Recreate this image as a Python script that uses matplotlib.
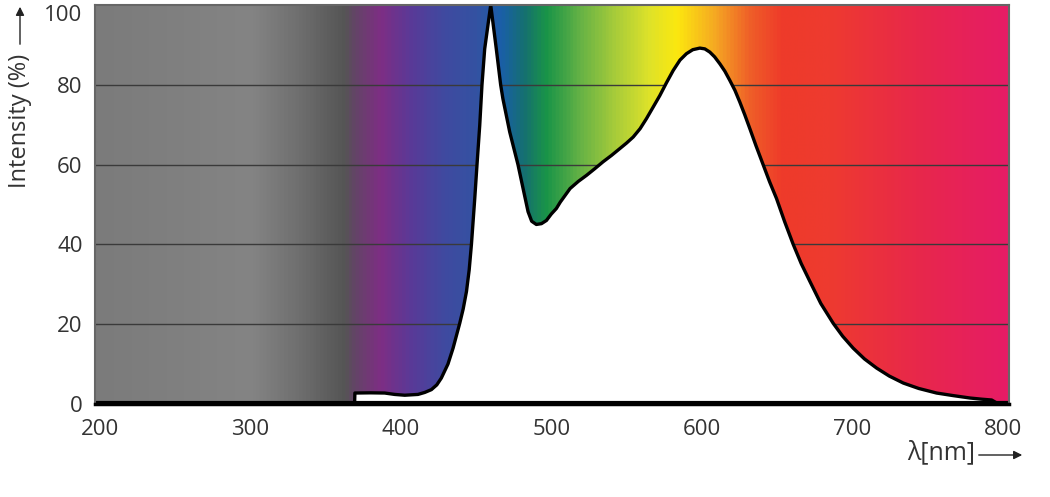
import matplotlib
matplotlib.use("Agg")
import matplotlib.pyplot as plt
import numpy as np
from matplotlib.colors import LinearSegmentedColormap
from matplotlib.patches import FancyArrowPatch

plt.rcParams['font.family'] = ['Open Sans', 'DejaVu Sans']

# ---- data ----
wavelength = [369.4, 369.6, 380, 389.4, 396, 402.7, 411.5, 416, 420.4, 424, 427, 431.4,
              434.8, 439.2, 441.5, 443.7, 445.5, 447, 449.2, 450.7, 452.5, 454, 455.8, 459.8,
              463.5, 466.4, 467.9, 472.4, 477.9, 481.3, 484.6, 487, 490.1, 493.5,
              496.8, 500, 503.4, 506, 512.5, 518, 523.4, 529, 534.4,
              540, 545.5, 550, 554.4, 559, 563.2, 567.5, 572.1, 576.5, 581, 585.5,
              589.8, 594, 598.7, 602, 605.3, 608.5, 612, 615.3, 618.6, 622, 625.2,
              628.5, 631.9, 636, 640.7, 645, 649.6, 655, 660.7, 666, 671.8, 679, 687.3,
              693.5, 700.5, 708, 716.1, 724.5, 733.8, 744, 755.9, 767, 778.1, 786,
              792.5, 797]
intensity = [0, 2.75, 2.8, 2.75, 2.4, 2.2, 2.4, 2.9, 3.6, 4.8, 6.5, 10,
             14, 20.2, 23.8, 28.2, 33.6, 40, 51.5, 60, 69.8, 80, 89, 100,
             89, 80, 76.5, 68.2, 60, 54, 48.2, 45.8, 45, 45.2,
             46, 47.6, 49, 50.6, 54, 55.8, 57.3, 59, 60.7,
             62.3, 64, 65.4, 66.9, 69, 71.5, 74.3, 77.3, 80.5, 83.6, 86.2,
             87.8, 88.8, 89.2, 89, 88.2, 87, 85.25, 83.4, 81.1, 78.6, 75.7,
             72.5, 69, 64.7, 60, 55.7, 51.5, 45.7, 40, 35.2, 30.7, 25.2, 20.2,
             17, 14, 11.3, 9, 7, 5.25, 3.9, 2.75, 2.1, 1.5, 1.2,
             1.0, 0]
x_ticks = [200, 300, 400, 500, 600, 700, 800]
y_ticks = [0, 20, 40, 60, 80, 100]
grid_levels = [20, 40, 60, 80]

# background spectrum gradient stops (wavelength, colour)
spectrum_stops = [(197, '#7b7b7b'), (300, '#848484'), (330, '#707070'), (351, '#5e5e5e'),
                  (362, '#555555'), (369, '#634566'), (386, '#7e2e84'), (407, '#593a98'),
                  (429, '#3f4aa0'), (450, '#3452a2'), (467, '#1a5fa8'), (482, '#157070'),
                  (497, '#1a9448'), (521, '#6ab445'), (543, '#a8cc3a'), (565, '#dde22a'),
                  (584, '#fce80f'), (610, '#f5a623'), (632, '#ef6028'), (654, '#ee3b2a'),
                  (687, '#ee3a30'), (743, '#e8284a'), (804, '#e61c66')]

x_min, x_max = 197, 804
y_min, y_max = 0, 100

fig = plt.figure(figsize=(10.5, 4.97), dpi=100)
ax = fig.add_axes([95/1050, 1-404/497, (1009-95)/1050, (404-5)/497])

positions = [(w - x_min) / (x_max - x_min) for w, _ in spectrum_stops]
colors = [c for _, c in spectrum_stops]
cmap = LinearSegmentedColormap.from_list('spec', list(zip(positions, colors)))
grad = np.linspace(0, 1, 1000).reshape(1, -1)
ax.imshow(grad, cmap=cmap, aspect='auto', extent=[x_min, x_max, y_min, y_max],
          origin='lower', zorder=0, interpolation='bilinear')

for g in grid_levels:
    ax.axhline(g, color='#3a3a3a', lw=1.0, zorder=1)

ax.fill_between(wavelength, intensity, 0, color='white', zorder=2, lw=0)
ax.plot(wavelength, intensity, color='black', lw=2.4, zorder=3,
        solid_joinstyle='round', solid_capstyle='round')
ax.axhline(0.3, color='black', lw=3, zorder=4)

ax.set_xlim(x_min, x_max)
ax.set_ylim(y_min, y_max)
ax.set_xticks(x_ticks)
ax.set_yticks(y_ticks)
ax.set_xticklabels([str(t) for t in x_ticks])
ax.set_yticklabels([str(t) for t in y_ticks])
ax.tick_params(length=0, labelsize=16, labelcolor='#333333')
ax.tick_params(axis='x', pad=11)
ax.tick_params(axis='y', pad=9)
ax.get_yticklabels()[-1].set_verticalalignment('top')
for s in ['top', 'left', 'right']:
    ax.spines[s].set_color('#666666')
    ax.spines[s].set_linewidth(1.5)
ax.spines['bottom'].set_color('black')
ax.spines['bottom'].set_linewidth(2.5)
for s in ax.spines.values():
    s.set_zorder(5)

# y-axis label with arrow
fig.text(20/1050, 1-121/497, 'Intensity (%)', rotation=90, ha='center', va='center',
         fontsize=17, color='#333333')
fig.add_artist(FancyArrowPatch((20/1050, 1-47/497), (20/1050, 1-4/497),
               transform=fig.transFigure, arrowstyle='-|>,head_length=5,head_width=2.5',
               color='#222222', lw=1.0))

# x-axis label with arrow
fig.text(975/1050, 1-453/497, 'λ[nm]', ha='right', va='center', fontsize=18, color='#333333')
fig.add_artist(FancyArrowPatch((976/1050, 1-455/497), (1025/1050, 1-455/497),
               transform=fig.transFigure, arrowstyle='-|>,head_length=5,head_width=2.5',
               color='#222222', lw=1.0))

fig.savefig('out.png', dpi=100)
